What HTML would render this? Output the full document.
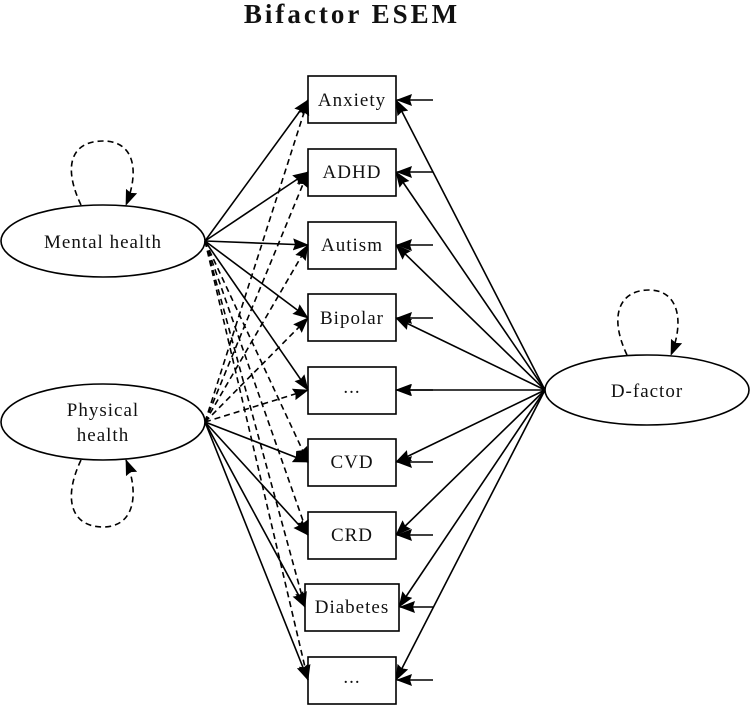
<!DOCTYPE html>
<html><head><meta charset="utf-8"><style>
html,body{margin:0;padding:0;background:#fff;}
svg{display:block;}
text{font-family:"Liberation Serif",serif;fill:#111;}
</style></head><body>
<svg width="750" height="705" viewBox="0 0 750 705" xmlns="http://www.w3.org/2000/svg">
<defs>
<marker id="a" markerWidth="16" markerHeight="14" refX="15" refY="7" orient="auto" markerUnits="userSpaceOnUse">
<path d="M0,1 L16,7 L0,13 L2,7 Z" fill="#000" stroke="none"/>
</marker>
</defs>
<text x="352" y="23" font-size="27" font-weight="bold" letter-spacing="3" text-anchor="middle">Bifactor ESEM</text>
<g fill="none" stroke="#000" stroke-width="1.6">
<ellipse cx="103" cy="241" rx="102" ry="36"/>
<ellipse cx="103" cy="422" rx="102" ry="38"/>
<ellipse cx="647" cy="390" rx="102" ry="35"/>
<rect x="308" y="76" width="88" height="47"/>
<rect x="308" y="149" width="88" height="47"/>
<rect x="308" y="222" width="88" height="47"/>
<rect x="308" y="294" width="88" height="47"/>
<rect x="308" y="367" width="88" height="47"/>
<rect x="308" y="439" width="88" height="47"/>
<rect x="308" y="512" width="88" height="47"/>
<rect x="305" y="584" width="94" height="47"/>
<rect x="308" y="657" width="88" height="47"/>
</g>
<g stroke="#000" stroke-width="1.6" fill="none" marker-end="url(#a)">
<line x1="205" y1="241" x2="308" y2="100"/>
<line x1="205" y1="241" x2="308" y2="172"/>
<line x1="205" y1="241" x2="308" y2="245"/>
<line x1="205" y1="241" x2="308" y2="318"/>
<line x1="205" y1="241" x2="308" y2="390"/>
<line x1="205" y1="422" x2="308" y2="462"/>
<line x1="205" y1="422" x2="308" y2="535"/>
<line x1="205" y1="422" x2="305" y2="607"/>
<line x1="205" y1="422" x2="308" y2="680"/>
<line x1="545" y1="390" x2="396" y2="100"/>
<line x1="545" y1="390" x2="396" y2="172"/>
<line x1="545" y1="390" x2="396" y2="245"/>
<line x1="545" y1="390" x2="396" y2="318"/>
<line x1="545" y1="390" x2="396" y2="390"/>
<line x1="545" y1="390" x2="396" y2="462"/>
<line x1="545" y1="390" x2="396" y2="535"/>
<line x1="545" y1="390" x2="399" y2="607"/>
<line x1="545" y1="390" x2="396" y2="680"/>
<line x1="433" y1="100" x2="397" y2="100"/>
<line x1="433" y1="172" x2="397" y2="172"/>
<line x1="433" y1="245" x2="397" y2="245"/>
<line x1="433" y1="318" x2="397" y2="318"/>
<line x1="433" y1="390" x2="397" y2="390"/>
<line x1="433" y1="462" x2="397" y2="462"/>
<line x1="433" y1="535" x2="397" y2="535"/>
<line x1="433" y1="607" x2="400" y2="607"/>
<line x1="433" y1="680" x2="397" y2="680"/>
</g>
<g stroke="#000" stroke-width="1.6" fill="none" stroke-dasharray="6,4" marker-end="url(#a)">
<line x1="205" y1="241" x2="308" y2="462"/>
<line x1="205" y1="241" x2="308" y2="535"/>
<line x1="205" y1="241" x2="305" y2="607"/>
<line x1="205" y1="241" x2="308" y2="680"/>
<line x1="205" y1="422" x2="308" y2="100"/>
<line x1="205" y1="422" x2="308" y2="172"/>
<line x1="205" y1="422" x2="308" y2="245"/>
<line x1="205" y1="422" x2="308" y2="318"/>
<line x1="205" y1="422" x2="308" y2="390"/>
<path d="M81,205 C62,165 72,141 103,141 C134,141 140,170 126,205"/>
<path d="M81,460 C62,500 72,527 103,527 C134,527 140,495 126,460"/>
<path d="M627,355 C608,315 620,290 649,290 C678,290 685,320 671,355"/>
</g>
<g font-size="19" letter-spacing="1" text-anchor="middle">
<text x="103" y="248">Mental health</text>
<text x="103" y="416">Physical</text>
<text x="103" y="441">health</text>
<text x="647" y="397">D-factor</text>
<text x="352" y="106">Anxiety</text>
<text x="352" y="178">ADHD</text>
<text x="352" y="251">Autism</text>
<text x="352" y="324">Bipolar</text>
<text x="352" y="393">...</text>
<text x="352" y="468">CVD</text>
<text x="352" y="541">CRD</text>
<text x="352" y="613">Diabetes</text>
<text x="352" y="683">...</text>
</g>
</svg>
</body></html>
